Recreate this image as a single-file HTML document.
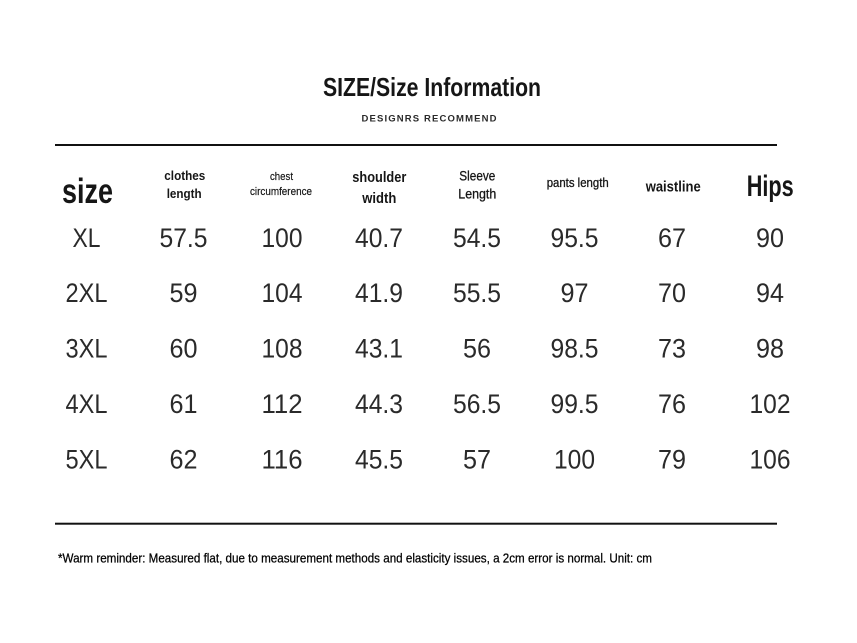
<!DOCTYPE html>
<html>
<head>
<meta charset="utf-8">
<style>
  html, body { margin: 0; padding: 0; background: #ffffff; }
  body { width: 857px; height: 643px; overflow: hidden; }
  svg { display: block; }
  .c { font-family: "Liberation Sans Narrow", "Liberation Sans", sans-serif; fill: #161616; }
  .d { font-family: "Liberation Sans", "Noto Sans CJK SC", sans-serif; fill: #2a2a2a; font-size: 27px; font-weight: 400; }
</style>
</head>
<body>
<svg width="857" height="643" viewBox="0 0 857 643" xmlns="http://www.w3.org/2000/svg">
  <rect width="857" height="643" fill="#ffffff"/>

  <!-- Title -->
  <text class="c" x="323" y="96" font-size="26" font-weight="bold" textLength="218" lengthAdjust="spacingAndGlyphs">SIZE/Size Information</text>
  <text class="c" x="361.5" y="121.7" font-size="9.5" font-weight="bold" fill="#333" textLength="135" lengthAdjust="spacing" style="fill:#2a2a2a">DESIGNRS RECOMMEND</text>

  <!-- top rule -->
  <rect x="55" y="144" width="722" height="2" fill="#111"/>

  <!-- Header row -->
  <text class="c" x="62" y="203" font-size="35" font-weight="bold" textLength="51" lengthAdjust="spacingAndGlyphs">size</text>

  <text class="c" x="164.3" y="180" font-size="13" font-weight="bold" textLength="41" lengthAdjust="spacingAndGlyphs">clothes</text>
  <text class="c" x="166.7" y="198" font-size="13" font-weight="bold" textLength="35" lengthAdjust="spacingAndGlyphs">length</text>

  <text class="c" x="270" y="180" font-size="11" textLength="23" lengthAdjust="spacingAndGlyphs" style="stroke:#161616;stroke-width:0.2">chest</text>
  <text class="c" x="250" y="195" font-size="11" textLength="62" lengthAdjust="spacingAndGlyphs" style="stroke:#161616;stroke-width:0.2">circumference</text>

  <text class="c" x="352.3" y="182" font-size="15" font-weight="bold" textLength="54" lengthAdjust="spacingAndGlyphs">shoulder</text>
  <text class="c" x="362.3" y="203" font-size="15" font-weight="bold" textLength="34" lengthAdjust="spacingAndGlyphs">width</text>

  <text class="c" x="459.3" y="180.5" font-size="13.5" textLength="36" lengthAdjust="spacingAndGlyphs" style="stroke:#161616;stroke-width:0.3">Sleeve</text>
  <text class="c" x="458.3" y="198.5" font-size="13.5" textLength="38" lengthAdjust="spacingAndGlyphs" style="stroke:#161616;stroke-width:0.3">Length</text>

  <text class="c" x="546.7" y="187" font-size="12.5" textLength="62" lengthAdjust="spacingAndGlyphs" style="stroke:#161616;stroke-width:0.3">pants length</text>

  <text class="c" x="645.7" y="191.5" font-size="15" font-weight="bold" textLength="55" lengthAdjust="spacingAndGlyphs">waistline</text>

  <text class="c" x="746.7" y="196" font-size="29.5" font-weight="bold" textLength="47" lengthAdjust="spacingAndGlyphs">Hips</text>

  <!-- Data rows -->
  <g class="d" text-anchor="middle">
    <!-- XL -->
    <text x="86.5" y="247" textLength="28" lengthAdjust="spacingAndGlyphs">XL</text>
    <text x="183.5" y="247" textLength="48" lengthAdjust="spacingAndGlyphs">57.5</text>
    <text x="282" y="247" textLength="41" lengthAdjust="spacingAndGlyphs">100</text>
    <text x="379" y="247" textLength="48" lengthAdjust="spacingAndGlyphs">40.7</text>
    <text x="477" y="247" textLength="48" lengthAdjust="spacingAndGlyphs">54.5</text>
    <text x="574.5" y="247" textLength="48" lengthAdjust="spacingAndGlyphs">95.5</text>
    <text x="672" y="247" textLength="28" lengthAdjust="spacingAndGlyphs">67</text>
    <text x="770" y="247" textLength="28" lengthAdjust="spacingAndGlyphs">90</text>

    <!-- 2XL -->
    <text x="86.5" y="302" textLength="42" lengthAdjust="spacingAndGlyphs">2XL</text>
    <text x="183.5" y="302" textLength="28" lengthAdjust="spacingAndGlyphs">59</text>
    <text x="282" y="302" textLength="41" lengthAdjust="spacingAndGlyphs">104</text>
    <text x="379" y="302" textLength="48" lengthAdjust="spacingAndGlyphs">41.9</text>
    <text x="477" y="302" textLength="48" lengthAdjust="spacingAndGlyphs">55.5</text>
    <text x="574.5" y="302" textLength="28" lengthAdjust="spacingAndGlyphs">97</text>
    <text x="672" y="302" textLength="28" lengthAdjust="spacingAndGlyphs">70</text>
    <text x="770" y="302" textLength="28" lengthAdjust="spacingAndGlyphs">94</text>

    <!-- 3XL -->
    <text x="86.5" y="357.5" textLength="42" lengthAdjust="spacingAndGlyphs">3XL</text>
    <text x="183.5" y="357.5" textLength="28" lengthAdjust="spacingAndGlyphs">60</text>
    <text x="282" y="357.5" textLength="41" lengthAdjust="spacingAndGlyphs">108</text>
    <text x="379" y="357.5" textLength="48" lengthAdjust="spacingAndGlyphs">43.1</text>
    <text x="477" y="357.5" textLength="28" lengthAdjust="spacingAndGlyphs">56</text>
    <text x="574.5" y="357.5" textLength="48" lengthAdjust="spacingAndGlyphs">98.5</text>
    <text x="672" y="357.5" textLength="28" lengthAdjust="spacingAndGlyphs">73</text>
    <text x="770" y="357.5" textLength="28" lengthAdjust="spacingAndGlyphs">98</text>

    <!-- 4XL -->
    <text x="86.5" y="413" textLength="42" lengthAdjust="spacingAndGlyphs">4XL</text>
    <text x="183.5" y="413" textLength="28" lengthAdjust="spacingAndGlyphs">61</text>
    <text x="282" y="413" textLength="41" lengthAdjust="spacingAndGlyphs">112</text>
    <text x="379" y="413" textLength="48" lengthAdjust="spacingAndGlyphs">44.3</text>
    <text x="477" y="413" textLength="48" lengthAdjust="spacingAndGlyphs">56.5</text>
    <text x="574.5" y="413" textLength="48" lengthAdjust="spacingAndGlyphs">99.5</text>
    <text x="672" y="413" textLength="28" lengthAdjust="spacingAndGlyphs">76</text>
    <text x="770" y="413" textLength="41" lengthAdjust="spacingAndGlyphs">102</text>

    <!-- 5XL -->
    <text x="86.5" y="468.3" textLength="42" lengthAdjust="spacingAndGlyphs">5XL</text>
    <text x="183.5" y="468.3" textLength="28" lengthAdjust="spacingAndGlyphs">62</text>
    <text x="282" y="468.3" textLength="41" lengthAdjust="spacingAndGlyphs">116</text>
    <text x="379" y="468.3" textLength="48" lengthAdjust="spacingAndGlyphs">45.5</text>
    <text x="477" y="468.3" textLength="28" lengthAdjust="spacingAndGlyphs">57</text>
    <text x="574.5" y="468.3" textLength="41" lengthAdjust="spacingAndGlyphs">100</text>
    <text x="672" y="468.3" textLength="28" lengthAdjust="spacingAndGlyphs">79</text>
    <text x="770" y="468.3" textLength="41" lengthAdjust="spacingAndGlyphs">106</text>
  </g>

  <!-- bottom rule -->
  <rect x="55" y="522.7" width="722" height="2" fill="#111"/>

  <!-- Footer -->
  <text class="c" x="58" y="562.7" font-size="13" textLength="594" lengthAdjust="spacingAndGlyphs" style="fill:#000;stroke:#000;stroke-width:0.25">*Warm reminder: Measured flat, due to measurement methods and elasticity issues, a 2cm error is normal. Unit: cm</text>
</svg>
</body>
</html>
